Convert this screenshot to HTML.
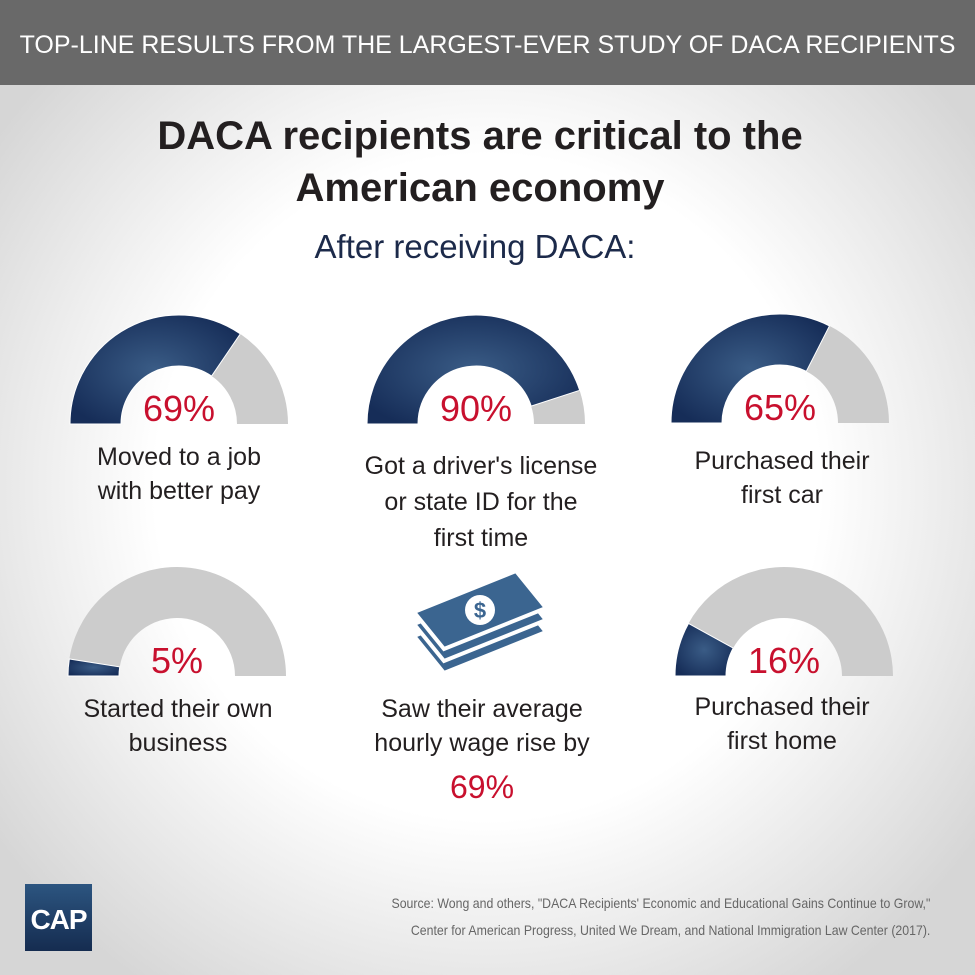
<!DOCTYPE html>
<html><head><meta charset="utf-8"><style>
body{margin:0;width:975px;height:975px;overflow:hidden;font-family:"Liberation Sans",sans-serif}
#bg{position:absolute;left:0;top:0;width:975px;height:975px;background:radial-gradient(ellipse 62% 62% at 50% 50%,#fff 55%,#d6d6d6 100%)}
.t{position:absolute;text-align:center;white-space:nowrap}
</style></head><body>
<div id="bg"></div>
<div style="position:absolute;left:0;top:0;width:975px;height:85px;background:#696969"></div>
<div class="t" style="left:0;width:975px;top:31px;font-size:25px;color:#fff">TOP-LINE RESULTS FROM THE LARGEST-EVER STUDY OF DACA RECIPIENTS</div>
<div class="t" style="left:0;width:960px;top:110px;font-size:40px;font-weight:bold;line-height:52px;color:#231f20">DACA recipients are critical to the<br>American economy</div>
<div class="t" style="left:0;width:950px;top:228px;font-size:33px;color:#1c2a4a">After receiving DACA:</div>
<svg id="chart" width="975" height="975" style="position:absolute;left:0;top:0">
<defs><radialGradient id="navy" cx="0.5" cy="0.5" r="0.6"><stop offset="0" stop-color="#3a5c86"/><stop offset="1" stop-color="#162d58"/></radialGradient></defs>
</svg>
<div class="t" style="left:79px;width:200px;top:440px;font-size:25px;line-height:34px;color:#231f20">Moved to a job<br>with better pay</div>
<div class="t" style="left:331px;width:300px;top:448px;font-size:25px;line-height:36px;color:#231f20">Got a driver's license<br>or state ID for the<br>first time</div>
<div class="t" style="left:652px;width:260px;top:444px;font-size:25px;line-height:34px;color:#231f20">Purchased their<br>first car</div>
<div class="t" style="left:48px;width:260px;top:692px;font-size:25px;line-height:34px;color:#231f20">Started their own<br>business</div>
<div class="t" style="left:332px;width:300px;top:692px;font-size:25px;line-height:34px;color:#231f20">Saw their average<br>hourly wage rise by<br><span style="color:#c8102e;font-size:32px;line-height:54px">69%</span></div>
<div class="t" style="left:652px;width:260px;top:690px;font-size:25px;line-height:34px;color:#231f20">Purchased their<br>first home</div>
<svg width="975" height="975" style="position:absolute;left:0;top:0">
<g fill="#3b6590" stroke="#fff" stroke-width="4" stroke-linejoin="miter">
<polygon points="414,636 516,595 546,632 444,673"/>
<polygon points="414,624 516,583 546,620 444,661"/>
<polygon points="414,612 516,571 546,608 444,649"/>
</g>
<circle cx="480" cy="610" r="15" fill="#fff"/>
<text x="480" y="618" text-anchor="middle" font-size="22" font-weight="bold" fill="#3b6590" font-family="Liberation Sans">$</text>
</svg>
<div style="position:absolute;left:25px;top:884px;width:67px;height:67px;background:linear-gradient(#2c5580,#152c50);color:#fff;font-weight:bold;font-size:28px;text-align:center;line-height:72px;font-family:'Liberation Sans Narrow','Liberation Sans',sans-serif;letter-spacing:-1px">CAP</div>
<div style="position:absolute;right:45px;top:890px;text-align:right;font-size:14px;line-height:27px;color:#666;white-space:nowrap;transform:scaleX(0.88);transform-origin:right top;font-family:'Liberation Sans Narrow','Liberation Sans',sans-serif">Source: Wong and others, "DACA Recipients' Economic and Educational Gains Continue to Grow,"<br>Center for American Progress, United We Dream, and National Immigration Law Center (2017).</div>
<script>
const categories=["job","license","car","business","home"];
const values=[69,90,65,5,16];
const valueLabels=["69%","90%","65%","5%","16%"];
const cx=[179,476,780,177,784], cy=[424,424,423,676,676];
const R=109, r=58;
const svg=document.getElementById('chart');
const NS='http://www.w3.org/2000/svg';
function ang(v){return Math.PI*(1-v/100);}
function pt(x,y,rad,a){return [x+rad*Math.cos(a),y-rad*Math.sin(a)];}
function arc(x,y,v0,v1){const a0=ang(v0),a1=ang(v1);const p1=pt(x,y,R,a0),p2=pt(x,y,R,a1),p3=pt(x,y,r,a1),p4=pt(x,y,r,a0);
return `M${p1}A${R},${R} 0 0 1 ${p2}L${p3}A${r},${r} 0 0 0 ${p4}Z`;}
for(let i=0;i<values.length;i++){
const g=document.createElementNS(NS,'path');g.setAttribute('d',arc(cx[i],cy[i],values[i],100));g.setAttribute('fill','#cccccc');


svg.appendChild(g);
const f=document.createElementNS(NS,'path');f.setAttribute('d',arc(cx[i],cy[i],0,values[i]));f.setAttribute('fill','url(#navy)');f.setAttribute('stroke','#fff');f.setAttribute('stroke-width','1');


svg.appendChild(f);
const t=document.createElementNS(NS,'text');t.setAttribute('x',cx[i]);t.setAttribute('y',cy[i]-3);t.setAttribute('text-anchor','middle');t.setAttribute('font-size','36');t.setAttribute('fill','#c8102e');t.setAttribute('font-family','Liberation Sans');t.textContent=valueLabels[i];


svg.appendChild(t);}
</script>
</body></html>
